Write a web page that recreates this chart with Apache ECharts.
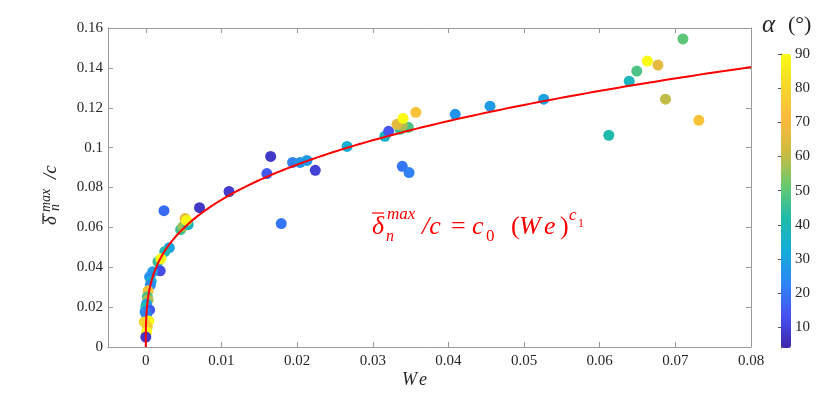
<!DOCTYPE html>
<html>
<head>
<meta charset="utf-8">
<script src="https://cdn.jsdelivr.net/npm/echarts@6/dist/echarts.min.js"></script>
<style>
  html, body { margin: 0; padding: 0; background: #fff; }
  #chart { width: 830px; height: 395px; }
</style>
</head>
<body>
<div id="chart"></div>
<script>
// data
const weData = [
  0.0710, 0.0663, 0.0677, 0.0649, 0.0639, 0.0687, 0.0731, 0.0612, 0.0526, 0.0455,
  0.0409, 0.0357, 0.0266, 0.0316, 0.0321, 0.0336, 0.0347, 0.0339, 0.0332, 0.0340,
  0.0339, 0.0348, 0.0071, 0.0110, 0.0165, 0.0160, 0.0179, 0.0194, 0.0204, 0.0213,
  0.0224, 0.0024, 0.0046, 0.0049, 0.0056, 0.0052, 0.0054, 0.0031, 0.0025, 0.0016,
  0.0020, 0.0019, 0.0009, 0.0005, 0.0007, 0.0006, 0.0003, 0.0002, 0.0003, 0.0001,
  0.0000, 0.0005, -0.0001, 0.0001, 0.0004, -0.0002, 0.0002, 0.0001, 0.0000
]
const deltaData = [
  0.1545, 0.1434, 0.1414, 0.1384, 0.1333, 0.1243, 0.1137, 0.1062, 0.1243, 0.1208,
  0.1167, 0.1177, 0.1006, 0.1057, 0.1082, 0.1092, 0.1102, 0.1112, 0.1117, 0.1147,
  0.0906, 0.0875, 0.0699, 0.0780, 0.0956, 0.0870, 0.0619, 0.0926, 0.0926, 0.0936,
  0.0886, 0.0684, 0.0589, 0.0604, 0.0614, 0.0644, 0.0634, 0.0498, 0.0478, 0.0428,
  0.0443, 0.0382, 0.0377, 0.0352, 0.0330, 0.0310, 0.0282, 0.0252, 0.0236, 0.0216,
  0.0201, 0.0186, 0.0176, 0.0161, 0.0131, 0.0126, 0.0101, 0.0075, 0.0050
]
const alphaData = [
  50, 90, 66, 48, 38, 60, 74, 42, 30, 28,
  26, 74, 34, 37, 14, 46, 48, 58, 66, 90,
  20, 22, 8, 9, 8, 15, 20, 22, 26, 28,
  10, 18, 46, 56, 38, 66, 90, 30, 40, 46,
  90, 12, 28, 25, 32, 24, 74, 48, 58, 30,
  40, 15, 25, 22, 90, 80, 76, 90, 8
]
const weTicks = [0, 0.01, 0.02, 0.03, 0.04, 0.05, 0.06, 0.07, 0.08]
const deltaTicks = [0, 0.02, 0.04, 0.06, 0.08, 0.1, 0.12, 0.14, 0.16]
const alphaTicks = [10, 20, 30, 40, 50, 60, 70, 80, 90]
// fit: delta/c = c0 * We^c1
const c0 = 0.3064
const c1 = 0.309

const parula = ['#3E26A8', '#4652F2', '#2C87F4', '#13AED8', '#21BBAA', '#6BC96E', '#CFBA40', '#FABA3E', '#F5D72C', '#F9FB14']
const serif = '"Liberation Serif", "DejaVu Serif", serif'
const ink = '#262626'
const red = '#ff0000'

const points = weData.map((w, i) => [w, deltaData[i], alphaData[i]])
const fitLine = []
for (let i = 0; i <= 200; i++) {
  const w = 0.08 * Math.pow(i / 200, 3)
  fitLine.push([w, c0 * Math.pow(w, c1)])
}

function txt(x, y, text, size, italic, color, align) {
  return {
    type: 'text', x, y, silent: true,
    style: {
      text,
      font: (italic ? 'italic ' : '') + size + 'px ' + serif,
      fill: color || ink,
      textAlign: align || 'left',
      textVerticalAlign: 'middle'
    }
  }
}
function bar(x1, x2, y, color) {
  return { type: 'line', silent: true, shape: { x1, y1: y, x2, y2: y }, style: { stroke: color || ink, lineWidth: 1.2 } }
}

const boxAxis = {
  axisLine: { show: true, onZero: false, lineStyle: { color: '#9a9a9a', width: 1 } },
  splitLine: { show: false }
}
const tickStyle = { inside: true, length: 5, lineStyle: { color: '#9a9a9a' } }
const labelStyle = { fontFamily: serif, fontSize: 15, color: ink }

const chart = echarts.init(document.getElementById('chart'))
chart.setOption({
  animation: false,
  grid: [
    { left: 108, top: 28, width: 643, height: 319 },
    { left: 781, top: 54, width: 10, height: 294 }
  ],
  xAxis: [
    {
      ...boxAxis, type: 'value', gridIndex: 0, position: 'bottom', min: -0.005, max: 0.08,
      axisTick: { ...tickStyle, customValues: weTicks },
      axisLabel: { ...labelStyle, margin: 7, customValues: weTicks }
    },
    {
      ...boxAxis, type: 'value', gridIndex: 0, position: 'top', min: -0.005, max: 0.08,
      axisTick: { ...tickStyle, customValues: weTicks },
      axisLabel: { show: false }
    },
    { type: 'value', gridIndex: 1, show: false, min: 0, max: 1 }
  ],
  yAxis: [
    {
      ...boxAxis, type: 'value', gridIndex: 0, position: 'left', min: 0, max: 0.16,
      axisTick: { ...tickStyle, customValues: deltaTicks },
      axisLabel: { ...labelStyle, margin: 5, customValues: deltaTicks }
    },
    {
      ...boxAxis, type: 'value', gridIndex: 0, position: 'right', min: 0, max: 0.16,
      axisTick: { ...tickStyle, customValues: deltaTicks },
      axisLabel: { show: false }
    },
    {
      type: 'value', gridIndex: 1, position: 'right', min: 4, max: 90,
      axisLine: { show: true, lineStyle: { color: '#555', width: 1 } },
      splitLine: { show: false },
      axisTick: { inside: true, length: 3, lineStyle: { color: '#555' }, customValues: alphaTicks },
      axisLabel: { ...labelStyle, margin: 4, customValues: alphaTicks }
    }
  ],
  visualMap: {
    type: 'continuous', min: 4, max: 90, dimension: 2, seriesIndex: 0,
    left: 781, top: 54, itemWidth: 10, itemHeight: 294, padding: 0,
    calculable: false, text: null, showLabel: false,
    inRange: { color: parula }
  },
  series: [
    {
      type: 'scatter', xAxisIndex: 0, yAxisIndex: 0, data: points,
      symbolSize: 11, itemStyle: { opacity: 1 }
    },
    {
      type: 'line', xAxisIndex: 0, yAxisIndex: 0, data: fitLine,
      showSymbol: false, lineStyle: { color: red, width: 2 }, z: 5
    }
  ],
  graphic: [
    // x axis title
    txt(402, 380, 'W', 18, true),
    txt(419, 380, 'e', 18, true),
    // y axis title, read bottom to top
    {
      type: 'group', x: 51, y: 225, rotation: Math.PI / 2,
      children: [
        bar(1, 12, -8),
        txt(0, 0, 'δ', 19, true),
        txt(13, -5, 'max', 14, true),
        txt(14, 4, 'n', 14, true),
        txt(46, 0, '/c', 19, true)
      ]
    },
    // colour bar title
    txt(762, 25, 'α', 25, true),
    txt(788, 25, '(°)', 22, false),
    // fit formula
    bar(372, 384, 213, red),
    txt(372, 227, 'δ', 26, true, red),
    txt(387, 215, 'max', 17, true, red),
    txt(386, 237, 'n', 16, true, red),
    txt(422, 227, '/c', 26, true, red),
    txt(451, 227, '=', 26, false, red),
    txt(472, 227, 'c', 26, true, red),
    txt(486, 237, '0', 17, false, red),
    txt(511, 227, '(', 26, false, red),
    txt(519, 227, 'W', 26, true, red),
    txt(544, 227, 'e', 26, true, red),
    txt(560, 227, ')', 26, false, red),
    txt(569, 216, 'c', 17, true, red),
    txt(578, 224, '1', 12, false, red)
  ]
})
</script>
</body>
</html>
